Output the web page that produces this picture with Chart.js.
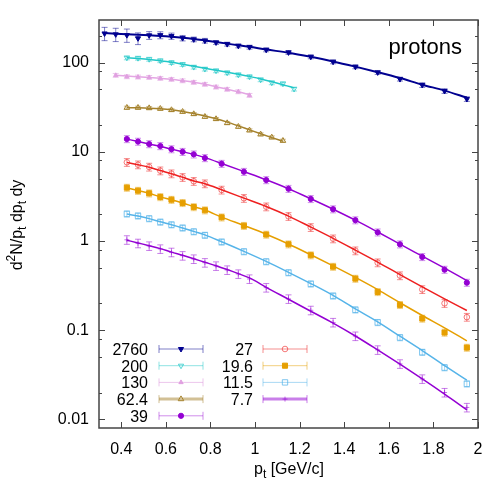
<!DOCTYPE html>
<html>
<head>
<meta charset="utf-8">
<script src="https://cdn.jsdelivr.net/npm/chart.js@4.4.1/dist/chart.umd.min.js"></script>
<style>html,body{margin:0;padding:0;background:#fff}</style>
</head>
<body>
<canvas id="protons" width="498" height="498"></canvas>
<script>
// bin centres in pt [GeV/c]
const ptAlice = [0.325, 0.375, 0.425, 0.475, 0.525, 0.575, 0.625, 0.675, 0.725, 0.775, 0.825, 0.875, 0.925, 0.975,
                 1.05, 1.15, 1.25, 1.35, 1.45, 1.55, 1.65, 1.75, 1.85, 1.95];
const pt200 = [0.425, 0.475, 0.525, 0.575, 0.625, 0.675, 0.725, 0.775, 0.825, 0.875, 0.925, 0.975, 1.025, 1.075, 1.125, 1.175];
const pt130 = [0.375, 0.425, 0.475, 0.525, 0.575, 0.625, 0.675, 0.725, 0.775, 0.825, 0.875, 0.925, 0.975];
const pt62 = [0.425, 0.475, 0.525, 0.575, 0.625, 0.675, 0.725, 0.775, 0.825, 0.875, 0.925, 0.975, 1.025, 1.075, 1.125];
const ptBes = [0.425, 0.475, 0.525, 0.575, 0.625, 0.675, 0.725, 0.775, 0.85, 0.95,
               1.05, 1.15, 1.25, 1.35, 1.45, 1.55, 1.65, 1.75, 1.85, 1.95];
const pt7 = [0.425, 0.475, 0.525, 0.575, 0.625, 0.675, 0.725, 0.775, 0.825, 0.875, 0.925, 0.975,
             1.05, 1.15, 1.25, 1.35, 1.45, 1.55, 1.65, 1.75, 1.85, 1.95];

// measured spectra
const y2760 = [212, 207, 203, 187, 202, 203, 198, 188, 182, 176, 168, 161, 154, 149, 139, 130, 116, 102, 89.7, 77.6, 65.3, 56, 48, 39];
const y200 = [113, 112, 109, 105, 100, 95.4, 89, 84.6, 81, 76.9, 73, 69.4, 64.2, 59.4, 57.9, 50.5];
const y130 = [71.9, 69.4, 68.8, 68.2, 66.5, 64.8, 62.5, 60, 57, 53.1, 50.1, 47.1, 42.9];
const y62 = [31.2, 31.2, 30.9, 30.4, 29.4, 28.1, 26.5, 24.7, 23.3, 21, 19.1, 17.4, 15.7, 14.5, 13.3];
const y39 = [13.9, 13.0, 12.2, 11.6, 10.7, 10.0, 9.36, 8.51, 7.35, 5.97, 4.82, 3.85, 2.96, 2.27, 1.71, 1.25, 0.918, 0.662, 0.477, 0.341];
const y27 = [7.62, 7.16, 6.75, 6.13, 5.68, 5.17, 4.67, 4.39, 3.73, 3.01, 2.42, 1.89, 1.42, 1.06, 0.778, 0.571, 0.409, 0.286, 0.200, 0.140];
const y19 = [3.96, 3.66, 3.42, 3.11, 2.90, 2.67, 2.40, 2.21, 1.84, 1.48, 1.18, 0.918, 0.692, 0.515, 0.378, 0.268, 0.192, 0.135, 0.094, 0.0637];
const y11 = [2.01, 1.91, 1.78, 1.63, 1.52, 1.40, 1.27, 1.16, 0.975, 0.759, 0.586, 0.441, 0.330, 0.242, 0.169, 0.122, 0.0826, 0.0566, 0.0380, 0.0250];
const y7 = [1.03, 0.942, 0.879, 0.814, 0.747, 0.684, 0.628, 0.571, 0.525, 0.473, 0.427, 0.375,
            0.300, 0.224, 0.167, 0.122, 0.0858, 0.0601, 0.0419, 0.0284, 0.0200, 0.0136];

// fitted curves at the same pt
const fit2760 = [214, 211, 208, 205, 202, 199, 195, 190, 184, 177, 170, 163, 156, 150, 140, 129, 116, 103, 90, 78, 67, 56.5, 48.5, 40.5];
const fit200 = [113, 111, 108.5, 105, 101, 96, 91, 86.5, 82, 78, 74, 70, 65.5, 61, 56.5, 52];
const fit130 = [72, 70.5, 69.3, 68, 66.5, 64.8, 62.5, 60, 57, 53.5, 50.3, 47, 43.5];
const fit62 = [31.3, 31.1, 30.8, 30.3, 29.5, 28.3, 26.8, 25.1, 23.4, 21.5, 19.5, 17.6, 15.9, 14.4, 13.1];
const fit39 = [13.9, 13.0, 12.2, 11.5, 10.7, 10.0, 9.35, 8.6, 7.4, 6.0, 4.85, 3.85, 2.97, 2.27, 1.71, 1.26, 0.92, 0.675, 0.495, 0.36];
const fit27 = [7.6, 7.15, 6.7, 6.15, 5.68, 5.18, 4.7, 4.38, 3.75, 3.02, 2.43, 1.9, 1.43, 1.07, 0.79, 0.58, 0.42, 0.305, 0.224, 0.166];
const fit19 = [3.95, 3.67, 3.42, 3.12, 2.9, 2.67, 2.42, 2.22, 1.85, 1.49, 1.19, 0.925, 0.70, 0.525, 0.39, 0.285, 0.203, 0.146, 0.106, 0.076];
const fit11 = [2.0, 1.9, 1.78, 1.64, 1.52, 1.4, 1.28, 1.17, 0.98, 0.765, 0.59, 0.445, 0.333, 0.245, 0.173, 0.124, 0.0855, 0.059, 0.040, 0.0275];
const fit7 = [1.02, 0.95, 0.885, 0.82, 0.75, 0.69, 0.632, 0.577, 0.528, 0.478, 0.43, 0.385,
              0.302, 0.222, 0.163, 0.12, 0.086, 0.06, 0.0415, 0.0284, 0.0192, 0.0128];

// relative errors
const err2760 = [0.17, 0.17, 0.17, 0.15, 0.10, 0.09, 0.08, 0.07, 0.06, 0.06, 0.05, 0.05, 0.05, 0.05,
                 0.05, 0.05, 0.05, 0.05, 0.05, 0.05, 0.05, 0.06, 0.06, 0.06];
const errRel = { '200': 0.05, '130': 0.05, '62.4': 0.04, '39': 0.09, '27': 0.10, '19.6': 0.09, '11.5': 0.08, '7.7': 0.11 };

const xTicks = [0.4, 0.6, 0.8, 1.0, 1.2, 1.4, 1.6, 1.8, 2.0];
const yMajor = [0.01, 0.1, 1, 10, 100];
const yMinor = [0.02, 0.05, 0.08, 0.2, 0.5, 0.8, 2, 5, 8, 20, 50, 80, 200];

const series = [
  { label: '2760', x: ptAlice, y: y2760, fit: fit2760, err: err2760, line: '#000090', lw: 2, mark: '#000090', fill: true, style: 'triangle', rot: 180, r: 3, errc: 'rgba(0,0,144,0.5)', legLw: 1 },
  { label: '200', x: pt200, y: y200, fit: fit200, err: errRel['200'], line: '#22c8c8', lw: 1.5, mark: 'rgba(34,200,200,0.75)', fill: false, style: 'triangle', rot: 180, r: 3, errc: 'rgba(34,200,200,0.5)', legLw: 1 },
  { label: '130', x: pt130, y: y130, fit: fit130, err: errRel['130'], line: '#e4a6e4', lw: 1.5, mark: '#e0a0e0', fill: true, style: 'triangle', rot: 0, r: 2.5, errc: 'rgba(224,160,224,0.6)', legLw: 1 },
  { label: '62.4', x: pt62, y: y62, fit: fit62, err: errRel['62.4'], line: '#a5822c', lw: 1.5, mark: '#a5822c', fill: false, style: 'triangle', rot: 0, r: 3.2, errc: 'rgba(165,130,44,0.5)', legLw: 3 },
  { label: '39', x: ptBes, y: y39, fit: fit39, err: errRel['39'], line: '#9400d3', lw: 1.5, mark: '#9400d3', fill: true, style: 'circle', rot: 0, r: 2.6, errc: 'rgba(148,0,211,0.45)', legLw: 1 },
  { label: '27', x: ptBes, y: y27, fit: fit27, err: errRel['27'], line: '#ee2020', lw: 1.5, mark: 'rgba(238,32,32,0.6)', fill: false, style: 'circle', rot: 0, r: 2.8, errc: 'rgba(238,32,32,0.5)', legLw: 1 },
  { label: '19.6', x: ptBes, y: y19, fit: fit19, err: errRel['19.6'], line: '#e69f00', lw: 1.5, mark: '#e69f00', fill: true, style: 'rect', rot: 0, r: 3.6, errc: 'rgba(230,159,0,0.5)', legLw: 1 },
  { label: '11.5', x: ptBes, y: y11, fit: fit11, err: errRel['11.5'], line: '#56b4e9', lw: 1.5, mark: 'rgba(86,180,233,0.75)', fill: false, style: 'rect', rot: 0, r: 3.8, errc: 'rgba(86,180,233,0.5)', legLw: 1 },
  { label: '7.7', x: pt7, y: y7, fit: fit7, err: errRel['7.7'], line: '#9400d3', lw: 1.5, mark: 'rgba(148,0,211,0.55)', fill: false, style: 'cross', rot: 0, r: 2.5, errc: 'rgba(148,0,211,0.5)', legLw: 3 }
];

const datasets = [];
series.forEach(s => {
  datasets.push({
    label: s.label + ' fit',
    data: s.x.map((v, i) => ({ x: v, y: s.fit[i] })),
    showLine: true, pointRadius: 0, borderColor: s.line, borderWidth: s.lw,
    cubicInterpolationMode: 'monotone', order: 2
  });
  datasets.push({
    label: s.label,
    data: s.x.map((v, i) => ({ x: v, y: s.y[i] })),
    showLine: false, pointStyle: s.style, rotation: s.rot, pointRadius: s.r,
    borderColor: s.mark, backgroundColor: s.fill ? s.mark : 'rgba(0,0,0,0)', borderWidth: 1,
    err: s.err, errColor: s.errc, order: 1
  });
});

const FONT = '"Liberation Sans", Arial, Helvetica, sans-serif';

const errorBars = {
  id: 'errorBars',
  beforeDatasetDraw(chart, args) {
    const ds = chart.data.datasets[args.index];
    if (ds.err === undefined) return;
    const { ctx, scales: { x, y } } = chart;
    ctx.save();
    ctx.strokeStyle = ds.errColor;
    ctx.lineWidth = 1;
    ds.data.forEach((p, i) => {
      const e = Array.isArray(ds.err) ? ds.err[i] : ds.err;
      const px = x.getPixelForValue(p.x);
      const lo = y.getPixelForValue(p.y * (1 - e));
      const hi = y.getPixelForValue(p.y * (1 + e));
      ctx.beginPath();
      ctx.moveTo(px, lo); ctx.lineTo(px, hi);
      ctx.moveTo(px - 3, lo); ctx.lineTo(px + 3, lo);
      ctx.moveTo(px - 3, hi); ctx.lineTo(px + 3, hi);
      ctx.stroke();
    });
    ctx.restore();
  }
};

// gnuplot-like frame with inward ticks
const frame = {
  id: 'frame',
  afterDraw(chart) {
    const { ctx, chartArea: a, scales: { x, y } } = chart;
    ctx.save();
    ctx.strokeStyle = '#444';
    ctx.lineWidth = 1;
    ctx.beginPath();
    xTicks.forEach(v => {
      const px = Math.round(x.getPixelForValue(v)) + 0.5;
      ctx.moveTo(px, a.bottom); ctx.lineTo(px, a.bottom - 6);
      ctx.moveTo(px, a.top); ctx.lineTo(px, a.top + 6);
    });
    yMajor.forEach(v => {
      const py = Math.round(y.getPixelForValue(v)) + 0.5;
      ctx.moveTo(a.left, py); ctx.lineTo(a.left + 6, py);
      ctx.moveTo(a.right, py); ctx.lineTo(a.right - 6, py);
    });
    yMinor.forEach(v => {
      const py = Math.round(y.getPixelForValue(v)) + 0.5;
      ctx.moveTo(a.left, py); ctx.lineTo(a.left + 3, py);
      ctx.moveTo(a.right, py); ctx.lineTo(a.right - 3, py);
    });
    ctx.stroke();
    ctx.lineWidth = 1.5;
    ctx.strokeRect(a.left, a.top, a.right - a.left, a.bottom - a.top);
    ctx.restore();
  }
};

function richWidth(ctx, parts) {
  let w = 0;
  parts.forEach(p => {
    ctx.font = (p.m ? 12 : 16) + 'px ' + FONT;
    w += ctx.measureText(p.t).width;
  });
  return w;
}
function drawRich(ctx, parts, cx, base) {
  let xx = cx - richWidth(ctx, parts) / 2;
  parts.forEach(p => {
    ctx.font = (p.m ? 12 : 16) + 'px ' + FONT;
    const dy = p.m === 'sub' ? 4 : p.m === 'sup' ? -7 : 0;
    ctx.fillText(p.t, xx, base + dy);
    xx += ctx.measureText(p.t).width;
  });
}

const legendRows = [
  { s: 0, col: 0, row: 0 }, { s: 1, col: 0, row: 1 }, { s: 2, col: 0, row: 2 }, { s: 3, col: 0, row: 3 }, { s: 4, col: 0, row: 4 },
  { s: 5, col: 1, row: 0 }, { s: 6, col: 1, row: 1 }, { s: 7, col: 1, row: 2 }, { s: 8, col: 1, row: 3 }
];

const texts = {
  id: 'texts',
  afterDraw(chart) {
    const ctx = chart.ctx;
    ctx.save();
    ctx.fillStyle = '#000';
    ctx.textBaseline = 'alphabetic';
    ctx.textAlign = 'left';
    // x title
    drawRich(ctx, [{ t: 'p' }, { t: 't', m: 'sub' }, { t: ' [GeV/c]' }], 289, 474);
    // y title
    ctx.save();
    ctx.translate(22, 225);
    ctx.rotate(-Math.PI / 2);
    drawRich(ctx, [{ t: 'd' }, { t: '2', m: 'sup' }, { t: 'N/p' }, { t: 't', m: 'sub' }, { t: ' dp' }, { t: 't', m: 'sub' }, { t: ' dy' }], 0, 0);
    ctx.restore();
    // label
    ctx.font = '22px ' + FONT;
    ctx.textAlign = 'right';
    ctx.fillText('protons', 462, 54);
    // legend
    legendRows.forEach(e => {
      const s = series[e.s];
      const tx = e.col ? 253 : 148;
      const x0 = e.col ? 263 : 159, x1 = e.col ? 307 : 203;
      const yy = 349 + e.row * 16.7;
      ctx.font = '16px ' + FONT;
      ctx.textAlign = 'right';
      ctx.fillStyle = '#000';
      ctx.fillText(s.label, tx, yy + 6);
      ctx.strokeStyle = s.errc;
      ctx.lineWidth = s.legLw;
      ctx.beginPath();
      ctx.moveTo(x0, yy); ctx.lineTo(x1, yy);
      ctx.stroke();
      ctx.lineWidth = 1;
      ctx.beginPath();
      ctx.moveTo(x0, yy - 4); ctx.lineTo(x0, yy + 4);
      ctx.moveTo(x1, yy - 4); ctx.lineTo(x1, yy + 4);
      ctx.stroke();
      ctx.strokeStyle = s.mark;
      ctx.fillStyle = s.fill ? s.mark : 'rgba(0,0,0,0)';
      Chart.helpers.drawPoint(ctx, { pointStyle: s.style, rotation: s.rot, radius: s.r, borderWidth: 1 }, (x0 + x1) / 2, yy);
    });
    ctx.restore();
  }
};

Chart.defaults.font.family = FONT;
Chart.defaults.font.size = 16;
Chart.defaults.color = '#000';

new Chart(document.getElementById('protons'), {
  type: 'scatter',
  data: { datasets },
  options: {
    responsive: false,
    animation: false,
    layout: { padding: { top: 20, right: 20, left: 0, bottom: 0 } },
    plugins: { legend: { display: false }, tooltip: { enabled: false } },
    scales: {
      x: {
        type: 'linear', min: 0.3, max: 2.0,
        grid: { display: false, drawTicks: false },
        border: { display: false },
        afterBuildTicks: s => { s.ticks = xTicks.map(v => ({ value: v })); },
        afterFit: s => { s.height = 70; },
        ticks: { padding: 12, maxRotation: 0, autoSkip: false, callback: v => String(Math.round(v * 10) / 10) }
      },
      y: {
        type: 'logarithmic', min: 0.008, max: 300,
        grid: { display: false, drawTicks: false },
        border: { display: false },
        afterBuildTicks: s => { s.ticks = yMajor.map(v => ({ value: v })); },
        afterFit: s => { s.width = 99; },
        ticks: { padding: 10, autoSkip: false, callback: v => String(v) }
      }
    }
  },
  plugins: [errorBars, frame, texts]
});
</script>
</body>
</html>
